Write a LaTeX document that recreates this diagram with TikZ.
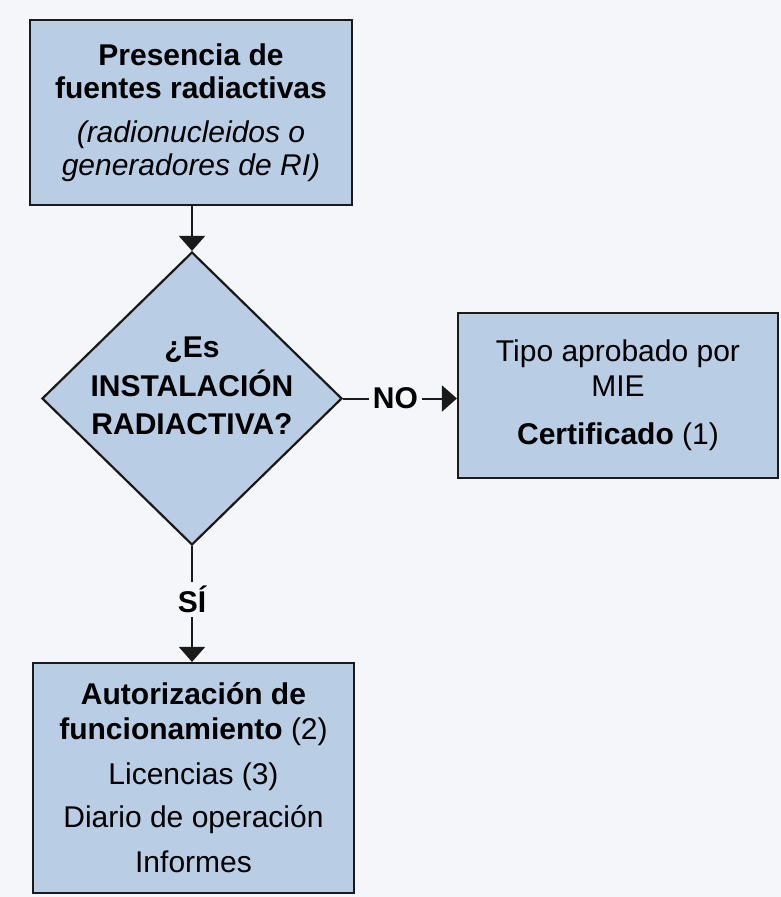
\documentclass[tikz,border=0pt]{standalone}
\usepackage{fontspec}
\setmainfont{Liberation Sans}
\usetikzlibrary{shapes.geometric,arrows.meta}
\definecolor{bg}{HTML}{F4F6F9}
\definecolor{boxfill}{HTML}{B9CDE5}
\definecolor{edge}{HTML}{1A1A1A}
\begin{document}
\begin{tikzpicture}[x=1pt,y=-1pt,
  box/.style={draw=edge, line width=2.2pt, fill=boxfill, align=center, inner sep=0pt, text=black},
  decision/.style={diamond, draw=edge, line width=2.2pt, fill=boxfill, inner sep=0pt},
  conn/.style={draw=edge, line width=2pt, -{Triangle[width=26pt,length=15pt]}},
  lbl/.style={fill=bg, text=black, font=\bfseries\fontsize{30}{34}\selectfont, inner xsep=4pt, inner ysep=4pt}
]
\fill[bg] (0,0) rectangle (781,897);
\useasboundingbox (0,0) rectangle (781,897);

\node[box, minimum width=322pt, minimum height=185pt, font=\fontsize{30}{33}\selectfont] (src) at (191,112.5)
  {\textbf{Presencia de}\\\textbf{fuentes radiactivas}\\[11pt]\textit{(radionucleidos o}\\\textit{generadores de RI)}};

\node[decision, minimum width=300pt, minimum height=293pt] (dec) at (192,398.5) {};
\node[font=\bfseries\fontsize{30}{38.5}\selectfont, align=center, text=black] (dectext) at (192,386)
  {¿Es\\INSTALACIÓN\\RADIACTIVA?};

\node[box, minimum width=320pt, minimum height=165pt, font=\fontsize{30}{35}\selectfont] (cert) at (618,395.5)
  {Tipo aprobado por\\MIE\\[13pt]\textbf{Certificado} (1)};

\node[box, minimum width=321pt, minimum height=230pt, font=\fontsize{30}{35}\selectfont] (auth) at (193.5,778)
  {\textbf{Autorización de}\\\textbf{funcionamiento} (2)\\[10pt]Licencias (3)\\[8pt]Diario de operación\\[10pt]Informes};

\draw[conn] (src.south -| dec.north) -- (dec.north);
\draw[conn] (dec.east) -- (cert.west |- dec.east) node[lbl, pos=0.46] (no) {NO};
\draw[conn] (dec.south) -- (auth.north -| dec.south) node[lbl, pos=0.46] (si) {SÍ};
\end{tikzpicture}
\end{document}
